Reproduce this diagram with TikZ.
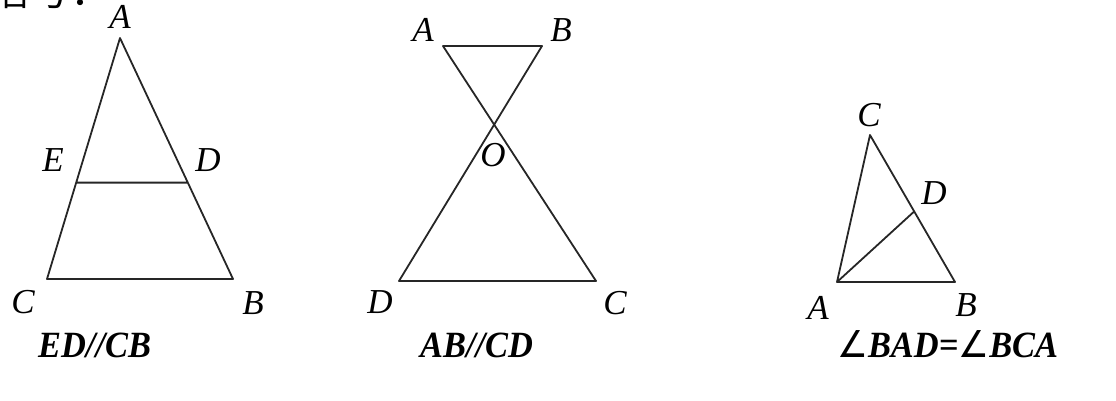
\documentclass[tikz,border=0pt]{standalone}
\usepackage{fontspec}
\setmainfont{Liberation Serif}
\newfontfamily\cjkfont{Noto Sans CJK SC}
\newfontfamily\symfont{DejaVu Sans}
\usetikzlibrary{positioning,calc}

\newcommand{\ang}{{\symfont\mdseries\upshape ∠}}

\begin{document}
\begin{tikzpicture}[x=1pt,y=-1pt,
  lbl/.style={font=\fontsize{35}{35}\selectfont\itshape,inner sep=0pt},
  capt/.style={font=\fontsize{37}{37}\selectfont\bfseries\itshape,inner sep=0pt,anchor=base west,xscale=0.93},
  ln/.style={line width=1.8pt,line join=round,black!85}]
\useasboundingbox (0,0) rectangle (1116,400);
% ---- heading, cut off by the top edge
\begin{scope}
 \clip (0,0) rectangle (1116,400);
 \node[font=\fontsize{40}{40}\selectfont\cjkfont,anchor=base west,inner sep=0pt] (hd) at (-10,5) {信号：};
\end{scope}
% ---- (1) ED // CB
\coordinate (a1) at (120,38);
\coordinate (c1) at (47,279);
\coordinate (b1) at (233,279);
\coordinate (e1) at ($(a1)!0.6!(c1)$);
\coordinate (d1) at ($(a1)!0.6!(b1)$);
\draw[ln] (c1)--(a1)--(b1)--cycle (e1)--(d1);
\node[lbl] (la1) at (120,17) {A};
\node[lbl] (le1) at (53,160) {E};
\node[lbl] (ld1) at (208,160) {D};
\node[lbl] (lc1) at (23,302) {C};
\node[lbl] (lb1) at (253,303) {B};
\node[capt] (cp1) at (38,357) {ED//CB};
% ---- (2) AB // CD
\coordinate (a2) at (443,46);
\coordinate (b2) at (542,46);
\coordinate (d2) at (399,281);
\coordinate (c2) at (596,281);
\draw[ln] (a2)--(b2)--(d2)--(c2)--cycle;
\node[lbl] (la2) at (423,30) {A};
\node[lbl] (lb2) at (561,30) {B};
\node[lbl] (lo2) at (493,155) {O};
\node[lbl] (ld2) at (380,302) {D};
\node[lbl] (lc2) at (615,303) {C};
\node[capt] (cp2) at (420,357) {AB//CD};
% ---- (3) angle BAD = angle BCA
\coordinate (c3) at (870,135);
\coordinate (a3) at (837,282);
\coordinate (b3) at (955,282);
\coordinate (d3) at ($(c3)!0.52!(b3)$);
\draw[ln] (a3)--(c3)--(b3)--cycle (a3)--(d3);
\node[lbl] (lc3) at (869,115) {C};
\node[lbl] (ld3) at (934,193) {D};
\node[lbl] (la3) at (818,308) {A};
\node[lbl] (lb3) at (966,305) {B};
\node[capt] (cp3) at (837,357) {\ang BAD=\ang BCA};
\end{tikzpicture}
\end{document}
